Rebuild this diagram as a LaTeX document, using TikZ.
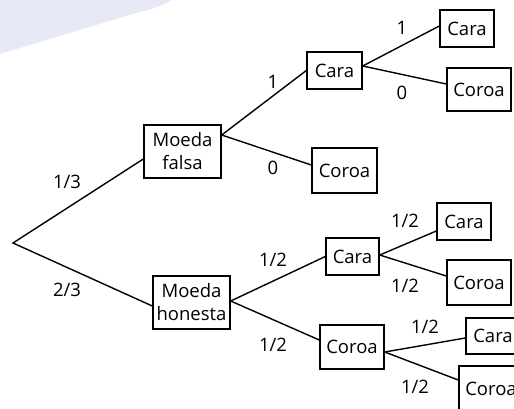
\documentclass[tikz,border=0pt]{standalone}
\usepackage{fontspec}
\setmainfont{Open Sans}
\begin{document}
\begin{tikzpicture}[x=1pt,y=-1pt,
  box/.style={draw=black,line width=1.4pt,inner sep=0pt,align=center,
    font=\fontsize{18.5pt}{23pt}\selectfont},
  lbl/.style={inner sep=0pt,font=\fontsize{18.5pt}{22pt}\selectfont},
  edge/.style={line width=1.4pt}]
\useasboundingbox (0,0) rectangle (514,408);
\clip (0,0) rectangle (514,408);
\fill[fill={rgb,255:red,230;green,233;blue,245}] (0,0) -- (172,0) .. controls (162,6) and (152,9) .. (136,13) -- (0,54) -- cycle;
% nodes
\coordinate (r) at (13,243);
\node[box,minimum width=77pt,minimum height=53pt] (mf) at (182.5,151.5) {Moeda\\falsa};
\node[box,minimum width=77pt,minimum height=53pt] (mh) at (191.5,302.5) {Moeda\\honesta};
\node[box,minimum width=55pt,minimum height=37pt] (c1) at (334.5,70.5) {Cara};
\node[box,minimum width=65pt,minimum height=45pt] (k1) at (344.5,170.5) {Coroa};
\node[box,minimum width=54pt,minimum height=37pt] (c11) at (467,28.5) {Cara};
\node[box,minimum width=64pt,minimum height=43pt] (k11) at (479,89.5) {Coroa};
\node[box,minimum width=53pt,minimum height=37pt] (c2) at (352.5,256.5) {Cara};
\node[box,minimum width=64pt,minimum height=44pt] (k2) at (352,347) {Coroa};
\node[box,minimum width=54pt,minimum height=37pt] (c21) at (464,221.5) {Cara};
\node[box,minimum width=64pt,minimum height=45pt] (k21) at (479,282.5) {Coroa};
\node[box,minimum width=54pt,minimum height=36pt] (c22) at (493,336) {Cara};
\node[box,minimum width=64pt,minimum height=45pt] (k22) at (491,388.5) {Coroa};
% edges
\draw[edge] ([yshift=-7.5pt]mf.west) -- (r) -- ([yshift=-3.5pt]mh.west);
\draw[edge] ([yshift=16.5pt]mf.east) -- (c1.west);
\draw[edge] ([yshift=16.5pt]mf.east) -- ([yshift=5.5pt]k1.west);
\draw[edge] ([yshift=4.5pt]c1.east) -- ([yshift=2.5pt]c11.west);
\draw[edge] ([yshift=4.5pt]c1.east) -- ([yshift=5.5pt]k11.west);
\draw[edge] ([yshift=1.5pt]mh.east) -- (c2.west);
\draw[edge] ([yshift=1.5pt]mh.east) -- ([yshift=7pt]k2.west);
\draw[edge] ([yshift=1.5pt]c2.east) -- ([yshift=-9.5pt]c21.west);
\draw[edge] ([yshift=1.5pt]c2.east) -- ([yshift=6.5pt]k21.west);
\draw[edge] ([yshift=-5pt]k2.east) -- ([yshift=-2pt]c22.west);
\draw[edge] ([yshift=-5pt]k2.east) -- ([yshift=8.5pt]k22.west);
% labels
\node[lbl] (l1) at (67,182) {1/3};
\node[lbl] (l2) at (67,290) {2/3};
\node[lbl] (l3) at (273,82) {1};
\node[lbl] (l4) at (273,168) {0};
\node[lbl] (l5) at (402,28) {1};
\node[lbl] (l6) at (402,93) {0};
\node[lbl] (l7) at (273,260) {1/2};
\node[lbl] (l8) at (273,345) {1/2};
\node[lbl] (l9) at (405,221) {1/2};
\node[lbl] (l10) at (405,286) {1/2};
\node[lbl] (l11) at (425,327) {1/2};
\node[lbl] (l12) at (415,387) {1/2};
\end{tikzpicture}
\end{document}
